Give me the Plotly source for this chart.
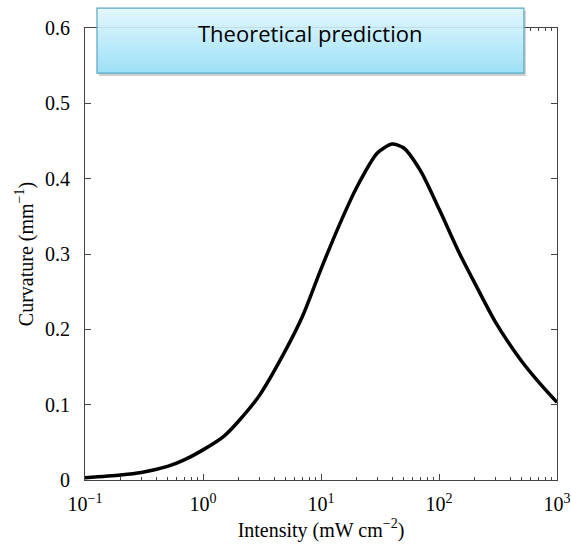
import numpy as np
import plotly.graph_objects as go

# Data
intensity = [0.1, 0.2, 0.3, 0.5, 0.7, 1, 1.5, 2, 3, 5, 7, 10, 15, 20, 30, 40, 50,
             70, 100, 150, 200, 300, 500, 700, 1000]
curvature = [0.003, 0.0066, 0.010, 0.018, 0.027, 0.040, 0.058, 0.078, 0.112, 0.172,
             0.218, 0.280, 0.346, 0.388, 0.434, 0.446, 0.441, 0.41, 0.36, 0.30,
             0.262, 0.21, 0.158, 0.13, 0.103]

x_tickvals = [0.1, 1, 10, 100, 1000]
x_ticktext = ["10<sup>−1</sup>", "10<sup>0</sup>", "10<sup>1</sup>", "10<sup>2</sup>", "10<sup>3</sup>"]
y_tickvals = [0, 0.1, 0.2, 0.3, 0.4, 0.5, 0.6]
y_ticktext = ["0", "0.1", "0.2", "0.3", "0.4", "0.5", "0.6"]
banner_text = "Theoretical prediction"

minor_vals = [m * 10.0 ** e for e in range(-1, 3) for m in range(2, 10)]

serif = "Liberation Serif"
axis_color = "#444444"

fig = go.Figure()
fig.add_trace(go.Scatter(x=intensity, y=curvature, mode="lines",
                         line=dict(color="black", width=3.5, shape="spline", smoothing=0.7),
                         showlegend=False, hoverinfo="skip"))

fig.update_xaxes(type="log", range=[-1, 3], tickmode="array", tickvals=x_tickvals,
                 ticktext=x_ticktext, ticks="inside", ticklen=6, tickcolor=axis_color,
                 showline=True, linecolor=axis_color, linewidth=1, mirror="allticks",
                 showgrid=False, zeroline=False, ticklabelstandoff=6, automargin=False,
                 tickfont=dict(family=serif, size=20, color="black"),
                 minor=dict(tickmode="array", tickvals=minor_vals, ticks="inside",
                            ticklen=3, tickcolor=axis_color, showgrid=False),
                 title=dict(text="Intensity (mW cm<sup>−2</sup>)",
                            font=dict(family=serif, size=20, color="black"), standoff=8))
fig.update_yaxes(range=[0, 0.6], tickmode="array", tickvals=y_tickvals, ticktext=y_ticktext,
                 ticks="inside", ticklen=6, tickcolor=axis_color,
                 showline=True, linecolor=axis_color, linewidth=1, mirror="allticks",
                 showgrid=False, zeroline=False, ticklabelstandoff=10, automargin=False,
                 tickfont=dict(family=serif, size=20, color="black"),
                 title=dict(text="Curvature (mm<sup>−1</sup>)",
                            font=dict(family=serif, size=20, color="black"), standoff=6))

# Banner box with vertical gradient (drawn as thin bands)
x0, x1 = 0.0254, 0.930
y_top, y_bot = 1.044, 0.900
n = 30
c_top = np.array([228, 248, 254])
c_bot = np.array([158, 225, 248])
# shadow
fig.add_shape(type="rect", xref="paper", yref="paper", x0=x0 + 0.004, x1=x1 + 0.004,
              y0=y_bot - 0.006, y1=y_top - 0.006, line=dict(width=0),
              fillcolor="rgba(120,120,120,0.35)", layer="above")
for i in range(n):
    t = (i + 0.5) / n
    c = (c_top * (1 - t) + c_bot * t).astype(int)
    ya = y_top - (y_top - y_bot) * i / n
    yb = y_top - (y_top - y_bot) * (i + 1) / n
    fig.add_shape(type="rect", xref="paper", yref="paper", x0=x0, x1=x1, y0=yb - 0.0005,
                  y1=ya + 0.0005, line=dict(width=0),
                  fillcolor=f"rgb({c[0]},{c[1]},{c[2]})", layer="above")
fig.add_shape(type="rect", xref="paper", yref="paper", x0=x0, x1=x1, y0=y_bot, y1=y_top,
              line=dict(color="#5aa6c0", width=1.2), fillcolor="rgba(0,0,0,0)", layer="above")
fig.add_annotation(xref="paper", yref="paper", x=(x0 + x1) / 2, y=0.989, text=banner_text,
                   showarrow=False, font=dict(family="Open Sans", size=22, color="#000000"),
                   xanchor="center", yanchor="middle")

fig.update_layout(width=571, height=546, margin=dict(l=85, r=14, t=28, b=66),
                  plot_bgcolor="white", paper_bgcolor="white")

fig.write_html("out.html")
